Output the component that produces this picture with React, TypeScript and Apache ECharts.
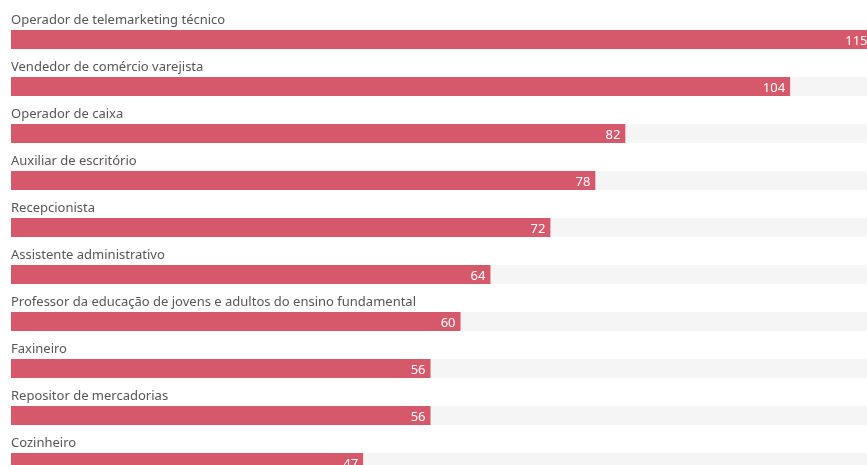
import React, { useEffect, useRef } from "react";
import * as echarts from "echarts";

const categories = [
  "Operador de telemarketing técnico",
  "Vendedor de comércio varejista",
  "Operador de caixa",
  "Auxiliar de escritório",
  "Recepcionista",
  "Assistente administrativo",
  "Professor da educação de jovens e adultos do ensino fundamental",
  "Faxineiro",
  "Repositor de mercadorias",
  "Cozinheiro",
];
const values = [115, 104, 82, 78, 72, 64, 60, 56, 56, 47];

export default function App() {
  const ref = useRef<HTMLDivElement>(null);
  useEffect(() => {
    document.documentElement.style.overflow = "hidden";
    const chart = echarts.init(ref.current!, null, { renderer: "svg" });
    chart.setOption({
      animation: false,
      grid: { left: 2, right: 0, top: 8, bottom: 2, containLabel: false },
      xAxis: {
        type: "value",
        min: 0,
        max: 120,
        show: false,
      },
      yAxis: {
        type: "category",
        data: categories,
        inverse: true,
        axisLine: { show: false },
        axisTick: { show: false },
        splitLine: { show: false },
        axisLabel: {
          inside: true,
          margin: 0,
          align: "left",
          verticalAlign: "bottom",
          padding: [0, 0, 14, 0],
          color: "#555",
          fontSize: 13,
          fontFamily: "Noto Sans",
        },
      },
      series: [
        {
          type: "bar",
          data: values,
          barWidth: 19,
          itemStyle: { color: "#d5596b" },
          showBackground: true,
          backgroundStyle: { color: "#f5f5f5" },
          label: {
            show: true,
            position: "insideRight",
            distance: 5,
            color: "#fff",
            fontSize: 13,
            fontFamily: "Noto Sans",
          },
        },
      ],
    });
    return () => chart.dispose();
  }, []);
  return (
    <div
      ref={ref}
      style={{ position: "fixed", left: 8, top: 8, width: 902, height: 480 }}
    />
  );
}
